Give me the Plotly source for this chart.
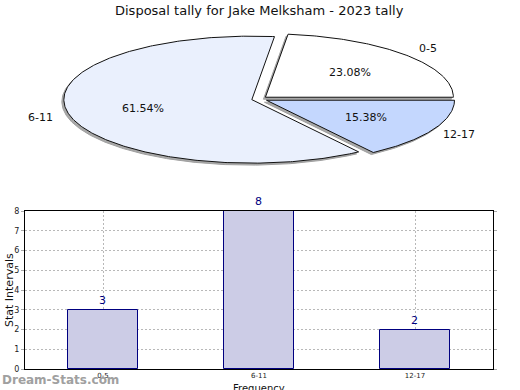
import numpy as np
import plotly.graph_objects as go

# ---- data ----
categories = ["0-5", "6-11", "12-17"]
values = [3, 8, 2]
pie_colors = ["#ffffff", "#eaf0fd", "#c4d7fe"]
y_ticks = [0, 1, 2, 3, 4, 5, 6, 7, 8]

title = "Disposal tally for Jake Melksham - 2023 tally"
x_title = "Frequency"
y_title = "Stat Intervals"

W, H = 520, 390
fig = go.Figure()

# ---- elliptical exploded pie drawn on a pixel-space axis pair ----
cx, cy = 259.5, 99.0
ra, rb = 188.0, 63.5
explode = 0.042
sh_dx, sh_dy = -2.0, 2.0

total = sum(values)
start = 0.0
slices = []
for cat, v, col in zip(categories, values, pie_colors):
    span = 360.0 * v / total
    a0, a1 = start, start + span
    mid = np.radians((a0 + a1) / 2)
    ox = cx + explode * ra * np.cos(mid)
    oy = cy - explode * rb * np.sin(mid)
    n = max(3, int(span * 1.5))
    th = np.radians(np.linspace(a0, a1, n))
    xs = np.concatenate([[ox], ox + ra * np.cos(th), [ox]])
    ys = np.concatenate([[oy], oy - rb * np.sin(th), [oy]])
    slices.append((cat, v, col, xs, ys, mid))
    start = a1

for cat, v, col, xs, ys, mid in slices:
    fig.add_trace(go.Scatter(x=xs + sh_dx, y=ys + sh_dy, mode="lines", fill="toself",
                             fillcolor="#a8a8a8", line=dict(color="#a0a0a0", width=1),
                             xaxis="x2", yaxis="y2", hoverinfo="skip", showlegend=False))
for cat, v, col, xs, ys, mid in slices:
    fig.add_trace(go.Scatter(x=xs, y=ys, mode="lines", fill="toself", fillcolor=col,
                             line=dict(color="#111111", width=1),
                             xaxis="x2", yaxis="y2", hoverinfo="skip", showlegend=False))

annotations = []
for cat, v, col, xs, ys, mid in slices:
    pct = 100.0 * v / total
    annotations.append(dict(x=cx + 0.64 * ra * np.cos(mid), y=cy - 0.64 * rb * np.sin(mid),
                            xref="x2", yref="y2", text=f"{pct:.2f}%", showarrow=False,
                            font=dict(size=11, color="#111111", family="DejaVu Sans")))
    annotations.append(dict(x=cx + 1.2 * ra * np.cos(mid), y=cy - 1.2 * rb * np.sin(mid),
                            xref="x2", yref="y2", text=cat, showarrow=False,
                            font=dict(size=11, color="#111111", family="DejaVu Sans")))

# ---- bar chart ----
fig.add_trace(go.Bar(x=categories, y=values, width=0.45,
                     marker=dict(color="#ccccE6", line=dict(color="#000080", width=1)),
                     text=[str(v) for v in values], textposition="outside",
                     textfont=dict(color="#000080", size=11, family="DejaVu Sans"),
                     cliponaxis=False, showlegend=False, xaxis="x", yaxis="y"))

annotations.append(dict(x=0, y=380, xref="x2", yref="y2", xanchor="left", yanchor="middle",
                        text="<b>Dream-Stats.com</b>", showarrow=False,
                        font=dict(size=12, color="#a0a0a0", family="DejaVu Sans")))
annotations.append(dict(x=259, y=10, xref="x2", yref="y2", text=title, showarrow=False,
                        font=dict(size=13, color="#111111", family="DejaVu Sans")))
annotations.append(dict(x=259, y=388, xref="x2", yref="y2", text=x_title, showarrow=False,
                        font=dict(size=10, color="#111111", family="DejaVu Sans")))
annotations.append(dict(x=9, y=290, xref="x2", yref="y2", text=y_title, showarrow=False,
                        textangle=-90,
                        font=dict(size=11, color="#111111", family="DejaVu Sans")))

fig.update_layout(
    width=W, height=H, margin=dict(l=0, r=0, t=0, b=0, autoexpand=False),
    paper_bgcolor="white", plot_bgcolor="rgba(0,0,0,0)",
    font=dict(family="DejaVu Sans", color="#111111"),
    annotations=annotations,
    bargap=0,
    xaxis=dict(domain=[25 / W, 493 / W], range=[-0.5, 2.5], type="category",
               showline=True, linecolor="black", linewidth=1, mirror=True,
               showgrid=True, gridcolor="#b8b8b8", griddash="2px,2px", gridwidth=1,
               ticks="", tickfont=dict(size=7, color="#222222"), layer="above traces",
               anchor="y", zeroline=False),
    yaxis=dict(domain=[(H - 369) / H, (H - 211) / H], range=[0, 8], tickvals=y_ticks,
               showline=True, linecolor="black", linewidth=1, mirror="allticks",
               showgrid=True, gridcolor="#b8b8b8", griddash="2px,2px", gridwidth=1,
               ticks="outside", ticklen=3, tickcolor="#aaaaaa", layer="above traces",
               tickfont=dict(size=8, color="#222222"),
               anchor="x", zeroline=False),
    xaxis2=dict(domain=[0, 1], range=[0, W], visible=False, anchor="y2", fixedrange=True),
    yaxis2=dict(domain=[0, 1], range=[H, 0], visible=False, anchor="x2", fixedrange=True),
)

fig.write_html("out.html", config={"displayModeBar": False},
               post_script="document.body.style.margin='0';document.body.style.overflow='hidden';")
